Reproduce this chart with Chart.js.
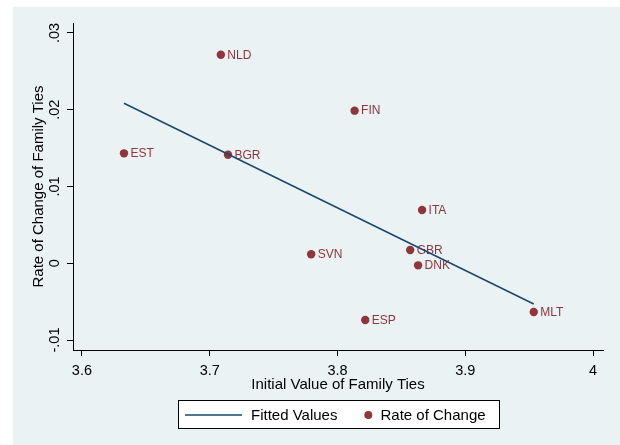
<!DOCTYPE html>
<html>
<head>
<meta charset="utf-8">
<script src="https://cdn.jsdelivr.net/npm/chart.js@4"></script>
<style>
  html, body { margin: 0; padding: 0; background: #ffffff; }
  #wrap { width: 620px; height: 445px; position: relative; }
</style>
</head>
<body>
<div id="wrap"><canvas id="c" width="620" height="445"></canvas></div>
<script>
// Country codes and their values
const countries   = ['NLD', 'FIN', 'EST', 'BGR', 'ITA', 'GBR', 'SVN', 'DNK', 'ESP', 'MLT'];
const initialTies = [3.7087, 3.8134, 3.6329, 3.7143, 3.8662, 3.8569, 3.7794, 3.8631, 3.8217, 3.9536];
const rateChange  = [0.02717, 0.01988, 0.01432, 0.01414, 0.00694, 0.00173, 0.00117, -0.00027, -0.00739, -0.00635];

// Fitted line end points
const fitX = [3.6329, 3.9536];
const fitY = [0.02084, -0.00531];

// Axis ticks
const xTickValues = [3.6, 3.7, 3.8, 3.9, 4.0];
const xTickLabels = ['3.6', '3.7', '3.8', '3.9', '4'];
const yTickValues = [-0.01, 0, 0.01, 0.02, 0.03];
const yTickLabels = ['-.01', '0', '.01', '.02', '.03'];

const NAVY = '#1a476f';
const MAROON = '#90353b';
const BG = '#eaf2f3';
const FONT = '"Liberation Sans", Arial, sans-serif';

const scatterPoints = initialTies.map((x, i) => ({ x: x, y: rateChange[i] }));
const fitPoints = fitX.map((x, i) => ({ x: x, y: fitY[i] }));

const backgroundPlugin = {
  id: 'graphRegion',
  beforeDraw(chart) {
    const ctx = chart.ctx;
    ctx.save();
    ctx.fillStyle = '#ffffff';
    ctx.fillRect(0, 0, chart.width, chart.height);
    ctx.fillStyle = BG;
    ctx.fillRect(13, 7, chart.width - 13, chart.height - 7);
    ctx.restore();
  }
};

const pointLabelPlugin = {
  id: 'pointLabels',
  afterDatasetDraw(chart, args) {
    if (args.index !== 1) return;
    const ctx = chart.ctx;
    const xs = chart.scales.x, ys = chart.scales.y;
    ctx.save();
    ctx.font = '12px ' + FONT;
    ctx.fillStyle = MAROON;
    ctx.textAlign = 'left';
    ctx.textBaseline = 'middle';
    countries.forEach((code, i) => {
      const px = xs.getPixelForValue(initialTies[i]);
      const py = ys.getPixelForValue(rateChange[i]);
      ctx.fillText(code, px + 6.5, py + 0.5);
    });
    ctx.restore();
  }
};

const legendPlugin = {
  id: 'boxLegend',
  afterDraw(chart) {
    const ctx = chart.ctx;
    ctx.save();
    ctx.fillStyle = '#ffffff';
    ctx.fillRect(178.5, 400.5, 321, 28);
    ctx.strokeStyle = '#000000';
    ctx.lineWidth = 1;
    ctx.strokeRect(178.5, 400.5, 321, 28);
    const cy = 415;
    ctx.strokeStyle = NAVY;
    ctx.lineWidth = 1.5;
    ctx.beginPath();
    ctx.moveTo(185, cy);
    ctx.lineTo(242, cy);
    ctx.stroke();
    ctx.fillStyle = MAROON;
    ctx.beginPath();
    ctx.arc(368.3, cy, 4, 0, Math.PI * 2);
    ctx.fill();
    ctx.fillStyle = '#000000';
    ctx.font = '15px ' + FONT;
    ctx.textBaseline = 'middle';
    ctx.textAlign = 'left';
    ctx.fillText('Fitted Values', 251, cy + 0.5);
    ctx.fillText('Rate of Change', 380.5, cy + 0.5);
    ctx.restore();
  }
};

new Chart(document.getElementById('c'), {
  data: {
    datasets: [
      {
        type: 'line',
        label: 'Fitted Values',
        data: fitPoints,
        borderColor: NAVY,
        borderWidth: 1.5,
        pointRadius: 0,
        fill: false,
        tension: 0
      },
      {
        type: 'scatter',
        label: 'Rate of Change',
        data: scatterPoints,
        backgroundColor: MAROON,
        borderColor: MAROON,
        borderWidth: 0,
        pointRadius: 4.2,
        pointHoverRadius: 4.2
      }
    ]
  },
  options: {
    responsive: false,
    animation: false,
    events: [],
    layout: { padding: { left: 13, top: 23, right: 17, bottom: 0 } },
    plugins: {
      legend: { display: false },
      tooltip: { enabled: false }
    },
    scales: {
      x: {
        type: 'linear',
        position: 'bottom',
        min: 3.593,
        max: 4.0078,
        afterBuildTicks(scale) { scale.ticks = xTickValues.map(v => ({ value: v })); },
        afterFit(scale) { scale.height = 95; },
        grid: {
          display: true,
          drawOnChartArea: false,
          drawTicks: true,
          tickLength: 6,
          color: '#000000',
          lineWidth: 1
        },
        border: { display: true, color: '#000000', width: 1 },
        ticks: {
          autoSkip: false,
          maxRotation: 0,
          minRotation: 0,
          padding: 6,
          color: '#000000',
          font: { family: FONT, size: 14.5 },
          callback: (v) => { const k = xTickValues.findIndex(t => Math.abs(t - v) < 1e-9); return k >= 0 ? xTickLabels[k] : ''; }
        },
        title: {
          display: true,
          text: 'Initial Value of Family Ties',
          color: '#000000',
          font: { family: FONT, size: 15 },
          padding: { top: 0, bottom: 51 }
        }
      },
      y: {
        type: 'linear',
        position: 'left',
        min: -0.0113,
        max: 0.0313,
        afterBuildTicks(scale) { scale.ticks = yTickValues.map(v => ({ value: v })); },
        afterFit(scale) { scale.width = 60; },
        grid: {
          display: true,
          drawOnChartArea: false,
          drawTicks: true,
          tickLength: 6,
          color: '#000000',
          lineWidth: 1
        },
        border: { display: true, color: '#000000', width: 1 },
        ticks: {
          autoSkip: false,
          minRotation: 90,
          maxRotation: 90,
          crossAlign: 'center',
          padding: 0,
          color: '#000000',
          font: { family: FONT, size: 14.5 },
          callback: (v) => { const k = yTickValues.findIndex(t => Math.abs(t - v) < 1e-9); return k >= 0 ? yTickLabels[k] : ''; }
        },
        title: {
          display: true,
          text: 'Rate of Change of Family Ties',
          color: '#000000',
          font: { family: FONT, size: 15 },
          padding: { top: 17, bottom: 0 }
        }
      }
    }
  },
  plugins: [backgroundPlugin, pointLabelPlugin, legendPlugin]
});
</script>
</body>
</html>
